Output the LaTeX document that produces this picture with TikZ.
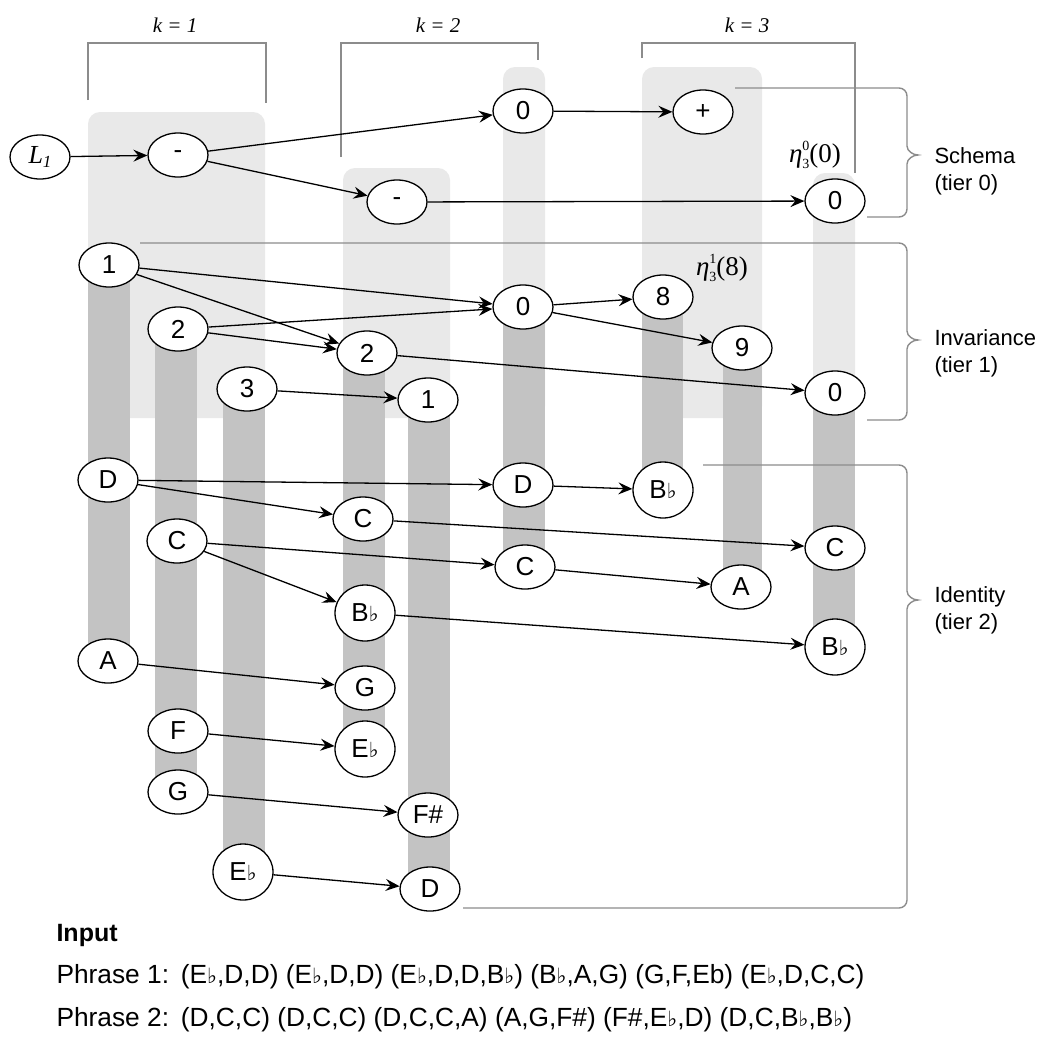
\documentclass[tikz,border=0pt]{standalone}
\usepackage{fontspec}
\setmainfont{Liberation Sans}
\newfontfamily\tnr{Liberation Serif}
\newfontfamily\symf{DejaVu Sans}[Scale=0.8]
\usetikzlibrary{shapes.geometric,arrows.meta}
\newcommand\flt{{\symf ♭}}
\definecolor{lightcol}{RGB}{233,233,233}
\definecolor{darkcol}{RGB}{195,195,195}
\definecolor{linecol}{RGB}{140,140,140}
% eta label: italic eta with stacked super- and subscript, then the argument
\newcommand\etalab[3]{{\tnr\itshape η}\makebox[0pt][l]{\raisebox{0.85ex}{\tnr\fontsize{14}{14}\selectfont #1}}\raisebox{-0.4ex}{\tnr\fontsize{14}{14}\selectfont #2}{\tnr(#3)}}
% curly tier brace on the right: top-left x, top y, tip y, bottom y, bottom-left x
\newcommand\tierbrace[5]{%
  \draw[gl] (#1,#2) -- (899,#2) .. controls (903.4,#2) and (907,{#2+3.6}) .. (907,{#2+8})
    -- (907,{#3-9}) .. controls (907,{#3-4}) and (913,#3) .. (918,#3)
    .. controls (913,#3) and (907,{#3+4}) .. (907,{#3+9})
    -- (907,{#4-8}) .. controls (907,{#4-3.6}) and (903.4,#4) .. (899,#4) -- (#5,#4);}

\begin{document}
\begin{tikzpicture}[x=1pt,y=-1pt,
  nd/.style={ellipse,draw,line width=1.3pt,fill=white,minimum width=60pt,
    minimum height=44pt,inner sep=0pt,font=\fontsize{26}{26}\selectfont},
  fnd/.style={nd,minimum height=56pt},
  arr/.style={-{Stealth[length=14pt,width=12pt,inset=5pt]},line width=1.3pt},
  lite/.style={fill=lightcol,rounded corners=12pt},
  bar/.style={fill=darkcol},
  gl/.style={draw=linecol,line width=1.4pt},
  klab/.style={font=\tnr\itshape\fontsize{21}{21}\selectfont},
  tier/.style={anchor=west,align=left,font=\fontsize{22}{27}\selectfont},
  eta/.style={font=\fontsize{27}{27}\selectfont,inner sep=1pt},
  txt/.style={anchor=west,font=\fontsize{26.3}{26.3}\selectfont}]

\useasboundingbox (0,0) rectangle (1041,1039);
\fill[white] (0,0) rectangle (1041,1039);

% light column groups for k = 1, 2, 3
\fill[lite] (88,112) rectangle (265,418);
\fill[lite] (343,168) rectangle (450,418);
\fill[lite] (503,67) rectangle (545,418);
\fill[lite] (642,67) rectangle (762,418);
\fill[lite] (813,173) rectangle (855,418);

% dark chains below each tier-1 value
\fill[bar] (88,265) rectangle (130,661);
\fill[bar] (155,329) rectangle (197,792);
\fill[bar] (223,389) rectangle (265,872);
\fill[bar] (343,353) rectangle (385,749);
\fill[bar] (408,400) rectangle (450,889);
\fill[bar] (503,307) rectangle (545,567);
\fill[bar] (642,297) rectangle (683,490);
\fill[bar] (723,348) rectangle (762,587);
\fill[bar] (813,393) rectangle (855,647);

% k brackets
\draw[gl] (88,100) -- (88,43) -- (266,43) -- (266,103);
\draw[gl] (341,157) -- (341,43) -- (538,43) -- (538,60);
\draw[gl] (642,58) -- (642,43) -- (855,43) -- (855,173);
\node[klab] (k1) at (175,25) {k = 1};
\node[klab] (k2) at (438,25) {k = 2};
\node[klab] (k3) at (747,25) {k = 3};

% tier braces
\tierbrace{735}{88}{155}{217}{867}
\tierbrace{140}{243}{340}{420}{867}
\tierbrace{703}{465}{600}{908}{463}
\node[tier] (schema) at (931,171) {Schema\\(tier 0)};
\node[tier] (invar) at (931,353) {Invariance\\(tier 1)};
\node[tier] (ident) at (931,610) {Identity\\(tier 2)};

% tier 0
\node[nd] (L1) at (40,157) {{\tnr\itshape L}\raisebox{-0.35ex}{\tnr\itshape\fontsize{17}{17}\selectfont 1}};
\node[nd] (m1) at (178,155) {-};
\node[nd] (z0) at (523,111) {0};
\node[nd] (m2) at (397,202) {-};
\node[nd] (plus) at (703,112) {+};
\node[nd] (zs) at (835,201) {0};

% tier 1
\node[nd] (n1) at (109,265) {1};
\node[nd] (n2) at (178,329) {2};
\node[nd] (n3) at (247,389) {3};
\node[nd] (t2) at (367,353) {2};
\node[nd] (t1) at (428,400) {1};
\node[nd] (t0) at (523,307) {0};
\node[nd] (e8) at (663,297) {8};
\node[nd] (e9) at (742,348) {9};
\node[nd] (f0) at (835,393) {0};

% tier 2
\node[nd] (D1) at (108,480) {D};
\node[nd] (Cc) at (363,519) {C};
\node[nd] (D2) at (523,485) {D};
\node[fnd] (Bb3) at (663,490) {B\flt};
\node[nd] (C1) at (177,541) {C};
\node[nd] (C2) at (525,567) {C};
\node[nd] (Ck3) at (835,548) {C};
\node[nd] (A3) at (741,587) {A};
\node[fnd] (Bb2) at (365,613) {B\flt};
\node[fnd] (Bb4) at (835,647) {B\flt};
\node[nd] (A1) at (108,661) {A};
\node[nd] (G2) at (365,688) {G};
\node[nd] (F1) at (178,731) {F};
\node[fnd] (Eb2) at (365,749) {E\flt};
\node[nd] (G1) at (178,792) {G};
\node[nd] (Fs) at (428,815) {F\#};
\node[fnd] (Eb1) at (243,872) {E\flt};
\node[nd] (D3) at (430,889) {D};

% eta labels
\node[eta] (eta0) at (815,155) {\etalab{0}{3}{0}};
\node[eta] (eta1) at (722,268) {\etalab{1}{3}{8}};

% connectors
\draw[arr] (L1) -- (m1);
\draw[arr] (m1) -- (z0);
\draw[arr] (m1) -- (m2);
\draw[arr] (z0) -- (plus);
\draw[arr] (m2) -- (zs);
\draw[arr] (n1) -- (t0);
\draw[arr] (n1) -- (t2);
\draw[arr] (n2) -- (t0);
\draw[arr] (n2) -- (t2);
\draw[arr] (n3) -- (t1);
\draw[arr] (t0) -- (e8);
\draw[arr] (t0) -- (e9);
\draw[arr] (t2) -- (f0);
\draw[arr] (D1) -- (D2);
\draw[arr] (D1) -- (Cc);
\draw[arr] (D2) -- (Bb3);
\draw[arr] (Cc) -- (Ck3);
\draw[arr] (C1) -- (C2);
\draw[arr] (C1) -- (Bb2);
\draw[arr] (C2) -- (A3);
\draw[arr] (Bb2) -- (Bb4);
\draw[arr] (A1) -- (G2);
\draw[arr] (F1) -- (Eb2);
\draw[arr] (G1) -- (Fs);
\draw[arr] (Eb1) -- (D3);

% input phrases
\node[txt,font=\bfseries\fontsize{25}{25}\selectfont] (inp) at (53,935) {Input};
\node[txt] (ph1) at (53,977) {Phrase 1:\hspace{0.45em}(E\flt,D,D) (E\flt,D,D) (E\flt,D,D,B\flt) (B\flt,A,G) (G,F,Eb) (E\flt,D,C,C)};
\node[txt] (ph2) at (53,1020) {Phrase 2:\hspace{0.45em}(D,C,C) (D,C,C) (D,C,C,A) (A,G,F\#) (F\#,E\flt,D) (D,C,B\flt,B\flt)};
\end{tikzpicture}
\end{document}
